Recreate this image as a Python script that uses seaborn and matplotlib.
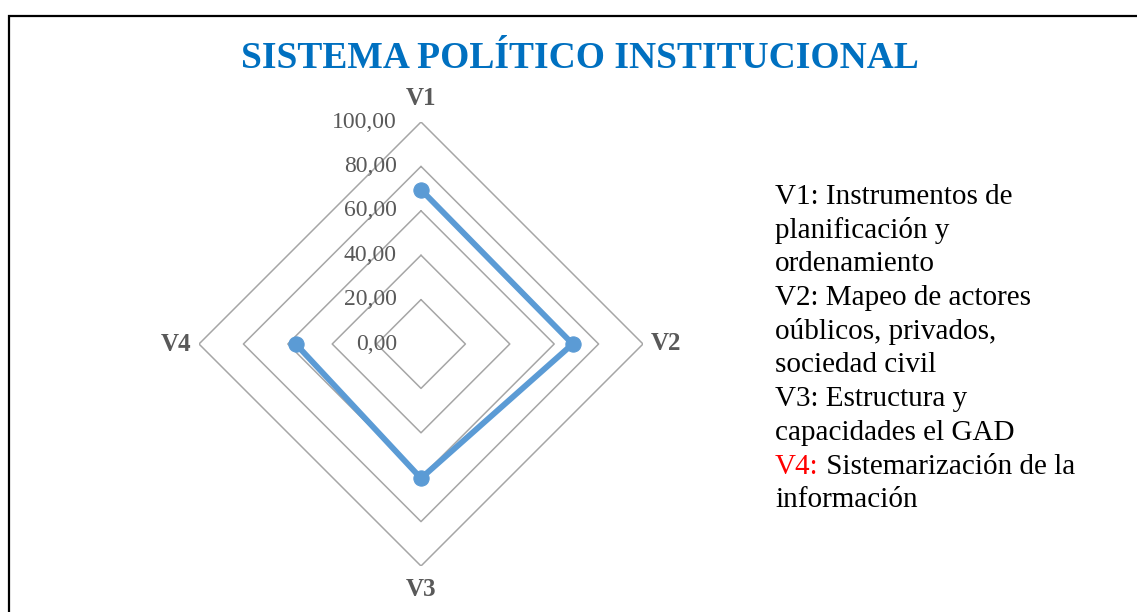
import numpy as np
import seaborn as sns
import matplotlib.pyplot as plt
from matplotlib.patches import Rectangle
from matplotlib.transforms import ScaledTranslation

categories = ['V1', 'V2', 'V3', 'V4']
values = [69.5, 68.3, 60.5, 56.4]
ring_levels = [20, 40, 60, 80, 100]
tick_values = [0, 20, 40, 60, 80, 100]
tick_labels = ['0,00', '20,00', '40,00', '60,00', '80,00', '100,00']
title = 'SISTEMA POLÍTICO INSTITUCIONAL'
notes = [
    'V1: Instrumentos de',
    'planificación y',
    'ordenamiento',
    'V2: Mapeo de actores',
    'oúblicos, privados,',
    'sociedad civil',
    'V3: Estructura y',
    'capacidades el GAD',
    'V4: Sistemarización de la',
    'información',
]

sns.set_theme(style='white')
plt.rcParams['font.family'] = ['Liberation Serif', 'DejaVu Serif']

W, H, DPI = 1137, 612, 100
fig = plt.figure(figsize=(W / DPI, H / DPI), dpi=DPI)
fig.patch.set_facecolor('white')

# polar axes: centre (421,344) px, radius 222 px
cx, cy, rad = 421, 344, 222
ax = fig.add_axes([(cx - rad) / W, (H - cy - rad) / H, 2 * rad / W, 2 * rad / H],
                  projection='polar')
ax.set_theta_offset(np.pi / 2)
ax.set_theta_direction(-1)
ax.set_ylim(0, 100)
ax.grid(False)
ax.set_xticks([])
ax.set_yticks([])
ax.spines['polar'].set_visible(False)
ax.set_facecolor('none')

angles = np.linspace(0, 2 * np.pi, len(categories), endpoint=False)
closed = np.append(angles, angles[0])

# diamond grid rings
for lvl in ring_levels:
    ax.plot(closed, [lvl] * len(closed), color='#A6A6A6', lw=1.1, zorder=1)

sns.lineplot(x=closed, y=values + values[:1], sort=False, ax=ax,
             color='#5B9BD5', linewidth=4.2, marker='o', markersize=11,
             markeredgecolor='#5B9BD5', zorder=3)
ax.set_xlabel('')
ax.set_ylabel('')

# radial value labels on the V1 axis
shift = ScaledTranslation(-24 / DPI, 0, fig.dpi_scale_trans)
for v, lab in zip(tick_values, tick_labels):
    ax.text(0, v, lab, ha='right', va='center', fontsize=17, color='#595959',
            transform=ax.transData + shift, zorder=4, clip_on=False)

# category labels
for a, c in zip(angles, categories):
    ax.text(a, 110.5, c, ha='center', va='center', fontsize=18,
            fontweight='bold', color='#595959', clip_on=False)

fig.text(580 / W, 1 - 58 / H, title, ha='center', va='center', fontsize=27,
         fontweight='bold', color='#0070C0')

# notes block on the right
x0, y0, dy = 775 / W, 197, 33.7
for i, line in enumerate(notes):
    y = 1 - (y0 + i * dy) / H
    if line.startswith('V4:'):
        red = fig.text(x0, y, 'V4:', ha='left', va='center', fontsize=21,
                       color='#FF0000')
        ax.annotate(line[3:], xy=(1, 0), xycoords=red, ha='left', va='bottom',
                    fontsize=21, color='black', annotation_clip=False)
    else:
        fig.text(x0, y, line, ha='left', va='center', fontsize=21, color='black')

# frame (only top and left edges visible)
fig.patches.append(Rectangle((9 / W, -0.2), 1.5, 0.2 + 1 - 16 / H, fill=False,
                             edgecolor='black', lw=1.6, transform=fig.transFigure,
                             figure=fig))

fig.savefig('out.png', dpi=DPI)
